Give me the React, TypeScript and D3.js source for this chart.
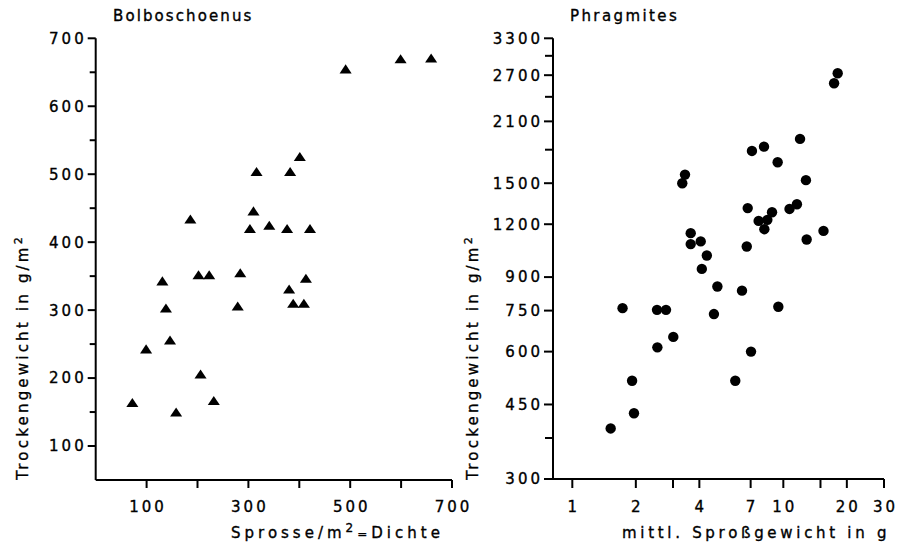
import React from "react";
import * as d3 from "d3";

// ---------- Data: Bolboschoenus ----------
const bolboDensity = [491, 599, 659, 316, 382, 401, 186, 310, 303, 341, 376, 421, 131, 202, 223, 284, 413, 380, 388, 409, 279, 138, 146, 99, 206, 72, 158, 232];
const bolboWeight = [655, 670, 671, 504, 504, 526, 434, 446, 420, 425, 420, 420, 343, 352, 352, 355, 347, 331, 310, 310, 306, 303, 256, 243, 206, 164, 150, 167];
const bolboXTicks = [100, 200, 300, 400, 500, 600, 700];
const bolboXLabels = [100, 300, 500, 700];
const bolboYTicks = [100, 200, 300, 400, 500, 600, 700];
const bolboYMinor = [150, 250, 350, 450, 550, 650];

// ---------- Data: Phragmites ----------
const phragShoot = [18.1, 17.4, 12.0, 8.1, 7.1, 9.4, 3.42, 3.32, 12.8, 6.78, 11.6, 10.7, 8.84, 7.64, 8.4, 8.13, 15.5, 12.9, 6.71, 3.64, 3.64, 4.06, 4.34, 4.11, 4.87, 6.37, 9.47, 1.73, 2.52, 2.78, 4.69, 3.01, 2.53, 7.03, 1.92, 5.92, 1.96, 1.52];
const phragWeight = [2729, 2584, 1909, 1830, 1788, 1681, 1572, 1500, 1525, 1310, 1338, 1304, 1281, 1222, 1229, 1168, 1157, 1104, 1063, 1143, 1077, 1093, 1012, 941, 855, 836, 766, 760, 753, 753, 736, 650, 614, 600, 512, 512, 429, 395];
const phragXTicks = [1, 2, 3, 4, 7, 10, 15, 20, 30];
const phragXLabels = [1, 2, 4, 7, 10, 20, 30];
const phragYTicks = [300, 450, 600, 750, 900, 1200, 1500, 2100, 2700, 3300];
const phragYMinor = [375, 1800, 2400, 3000];

const FONT = "'DejaVu Sans', sans-serif";

const flatTriangle = {
  draw(ctx: any, size: number) {
    const w = Math.sqrt(size) * 1.35;
    const h = w * 0.75;
    ctx.moveTo(0, -h / 2);
    ctx.lineTo(w / 2, h / 2);
    ctx.lineTo(-w / 2, h / 2);
    ctx.closePath();
  },
};

export default function App() {
  // Left panel scales
  const lx = d3.scaleLinear().domain([0, 700]).range([95.7, 452]);
  const ly = d3.scaleLinear().domain([50, 700]).range([480, 38.3]);
  // Right panel scales
  const rx = d3.scaleLog().domain([0.81, 30]).range([553, 884]);
  const ry = d3.scaleLog().domain([300, 3300]).range([479, 38.3]);

  const triPath = d3.symbol().type(flatTriangle as any).size(80)() as string;

  const ls = 3;
  const tickStyle = { stroke: "#000", strokeWidth: 2 };
  const txt = { fill: "#000", stroke: "#000", strokeWidth: 0.35 };

  return (
    <svg width={906} height={544} style={{ position: "absolute", left: 0, top: 0, background: "#fff" }} fontFamily={FONT}>
      <rect width={906} height={544} fill="#fff" />
      {/* ---------- Left panel ---------- */}
      <text x={113} y={21} fontSize={15} letterSpacing={2.1} {...txt}>Bolboschoenus</text>
      {/* axes */}
      <line x1={lx(0)} x2={lx(0)} y1={ly(700)} y2={ly(50)} {...tickStyle} />
      <line x1={lx(0)} x2={lx(700)} y1={ly(50)} y2={ly(50)} {...tickStyle} />
      {bolboYTicks.map((t) => (
        <g key={"lyt" + t}>
          <line x1={lx(0) - 8} x2={lx(0)} y1={ly(t)} y2={ly(t)} {...tickStyle} />
          <text x={lx(0) - 12 + ls} y={ly(t)} dy="0.36em" fontSize={15} textAnchor="end" letterSpacing={ls} {...txt}>{t}</text>
        </g>
      ))}
      {bolboYMinor.map((t) => (
        <line key={"lym" + t} x1={lx(0) - 6} x2={lx(0)} y1={ly(t)} y2={ly(t)} {...tickStyle} />
      ))}
      {bolboXTicks.map((t) => (
        <line key={"lxt" + t} x1={lx(t)} x2={lx(t)} y1={ly(50)} y2={ly(50) + 8} {...tickStyle} />
      ))}
      {bolboXLabels.map((t) => (
        <text key={"lxl" + t} x={lx(t) + ls / 2} y={512} fontSize={15} textAnchor="middle" letterSpacing={ls} {...txt}>{t}</text>
      ))}
      {/* y label */}
      <text transform="translate(28,357) rotate(-90)" fontSize={15} textAnchor="middle" letterSpacing={3.2} {...txt}>
        Trockengewicht in g/m<tspan fontSize={11} dy={-6}>2</tspan>
      </text>
      {/* x label */}
      <text x={231} y={538} fontSize={15} letterSpacing={4} {...txt}>
        Sprosse/m<tspan fontSize={12} dy={-6}>2</tspan><tspan dy={6} fontSize={12}>=</tspan>Dichte
      </text>
      {/* points */}
      {bolboDensity.map((d, i) => (
        <path key={"tri" + i} d={triPath} transform={`translate(${lx(d)},${ly(bolboWeight[i])})`} fill="#000" />
      ))}

      {/* ---------- Right panel ---------- */}
      <text x={570} y={21} fontSize={15} letterSpacing={2.4} {...txt}>Phragmites</text>
      <line x1={553} x2={553} y1={ry(3300)} y2={ry(300)} {...tickStyle} />
      <line x1={553} x2={rx(30)} y1={ry(300)} y2={ry(300)} {...tickStyle} />
      {phragYTicks.map((t) => (
        <g key={"ryt" + t}>
          <line x1={553 - 9} x2={553} y1={ry(t)} y2={ry(t)} {...tickStyle} />
          <text x={553 - 13 + ls} y={ry(t)} dy="0.36em" fontSize={15} textAnchor="end" letterSpacing={ls} {...txt}>{t}</text>
        </g>
      ))}
      {phragYMinor.map((t) => (
        <line key={"rym" + t} x1={553 - 8} x2={553} y1={ry(t)} y2={ry(t)} {...tickStyle} />
      ))}
      {phragXTicks.map((t) => (
        <line key={"rxt" + t} x1={rx(t)} x2={rx(t)} y1={ry(300)} y2={ry(300) + 9} {...tickStyle} />
      ))}
      {phragXLabels.map((t) => (
        <text key={"rxl" + t} x={rx(t) + ls / 2} y={512} fontSize={15} textAnchor="middle" letterSpacing={ls} {...txt}>{t}</text>
      ))}
      <text transform="translate(478,357) rotate(-90)" fontSize={15} textAnchor="middle" letterSpacing={3.2} {...txt}>
        Trockengewicht in g/m<tspan fontSize={11} dy={-6}>2</tspan>
      </text>
      <text x={622} y={538} fontSize={15} letterSpacing={3.7} {...txt}>mittl. Sproßgewicht in g</text>
      {phragShoot.map((d, i) => (
        <circle key={"c" + i} cx={rx(d)} cy={ry(phragWeight[i])} r={5.2} fill="#000" />
      ))}
    </svg>
  );
}
